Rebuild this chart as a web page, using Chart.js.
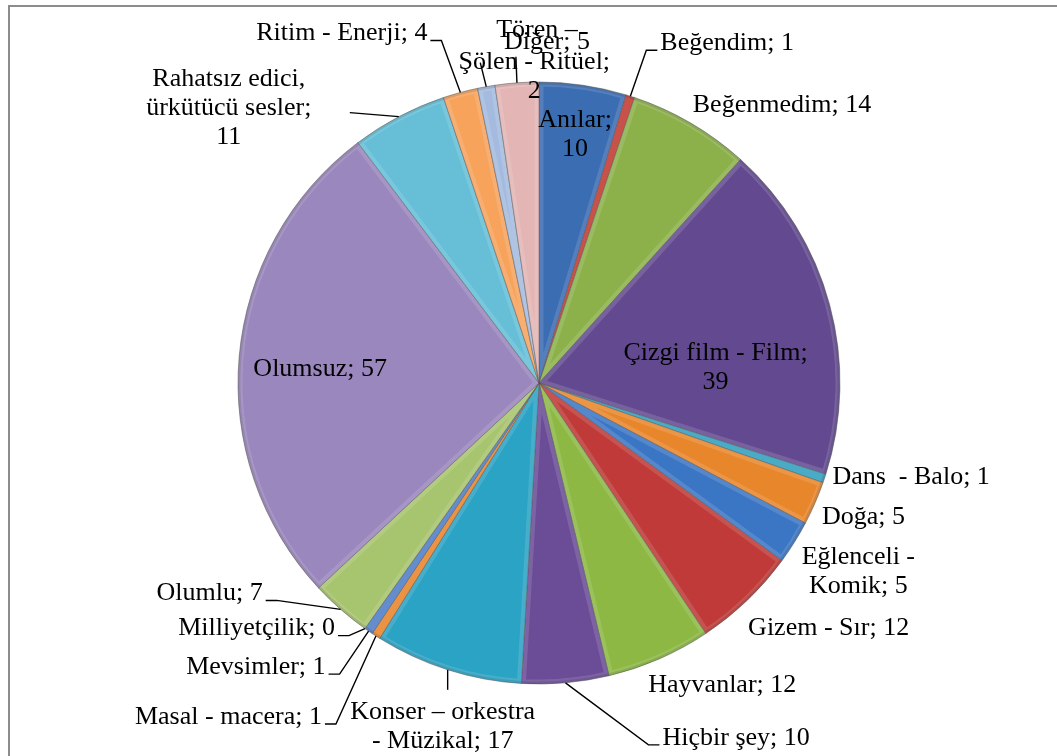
<!DOCTYPE html>
<html>
<head>
<meta charset="utf-8">
<script src="https://cdn.jsdelivr.net/npm/chart.js@4"></script>
<style>
html, body { margin: 0; padding: 0; background: #fff; }
#wrap { width: 1057px; height: 756px; position: relative; }
#probe { position: absolute; left: -9999px; top: 0; font: 26px "Liberation Serif"; }
</style>
</head>
<body>
<div id="wrap"><canvas id="pie" width="1057" height="756"></canvas></div>
<span id="probe">Beğendim Şölen Çizgi</span>
<script>
// categories and counts, clockwise from 12 o'clock
const categories = [
  "Anılar", "Beğendim", "Beğenmedim", "Çizgi film - Film", "Dans  - Balo", "Doğa",
  "Eğlenceli - Komik", "Gizem - Sır", "Hayvanlar", "Hiçbir şey", "Konser – orkestra - Müzikal",
  "Masal - macera", "Mevsimler", "Milliyetçilik", "Olumlu", "Olumsuz",
  "Rahatsız edici, ürkütücü sesler", "Ritim - Enerji", "Şölen - Ritüel", "Tören –", "Diğer"
];
const counts = [10, 1, 14, 39, 1, 5, 5, 12, 12, 10, 17, 1, 1, 0, 7, 57, 11, 4, 2, 0, 5];

const sliceColors = [
  "#3b6db3", "#c0392f", "#8cb14a", "#634a90", "#2f9fbd", "#e8862c",
  "#3b76c4", "#bf3a38", "#8cb843", "#6a4c97", "#2ba3c4",
  "#e8842a", "#4c7dc5", "#c25a57", "#a7c46f", "#9a87bd",
  "#66bfd7", "#f7a35c", "#a4badf", "#d99694", "#e3b5b4"
];

// label placement: offset of the text anchor from the slice's outer mid point
const labelLayout = [
  { dx: -8, dy: 49, align: "center", breaks: ["Anılar;"] },
  { dx: 30, dy: -53, align: "left", leader: true },
  { dx: 2, dy: -18, align: "left" },
  { dx: -114, dy: 63, align: "center", breaks: ["Film;"] },
  { dx: 8, dy: -1, align: "left" },
  { dx: 7, dy: 14, align: "left" },
  { dx: 64, dy: 29, align: "center", breaks: ["Eğlenceli -"] },
  { dx: 1, dy: 28, align: "left" },
  { dx: -11, dy: 26, align: "left" },
  { dx: 97, dy: 55, align: "left", leader: true },
  { dx: -5, dy: 57, align: "center", breaks: ["orkestra"], leaderTo: [0, 20] },
  { dx: -54, dy: 81, align: "right", leader: true },
  { dx: -43, dy: 36, align: "right", leader: true },
  { dx: -30, dy: 0, align: "right", leader: true },
  { dx: -78, dy: -16, align: "right", leader: true },
  { dx: 81, dy: 13, align: "center" },
  { dx: -170, dy: -8, align: "center", breaks: ["edici,", "sesler;"], leaderTo: [-49, -4] },
  { dx: -33, dy: -59, align: "right", leader: true },
  { dx: 48, dy: -10, align: "center", breaks: ["Ritüel;"], leaderTo: [-6, -24] },
  { dx: 42, dy: -55, align: "center", nameOnly: true },
  { dx: 30, dy: -41, align: "center", leaderTo: [-1, -26] }
];

const LABEL_FONT = "26px 'Liberation Serif', 'DejaVu Serif', serif";

function labelLines(i) {
  const lay = labelLayout[i];
  let text = lay.nameOnly ? categories[i] : categories[i] + "; " + counts[i];
  const lines = [];
  (lay.breaks || []).forEach(b => {
    const k = text.indexOf(b);
    if (k >= 0) {
      lines.push(text.slice(0, k + b.length).trim());
      text = text.slice(k + b.length);
    }
  });
  lines.push(text.trim());
  return lines;
}

const framePlugin = {
  id: "frame",
  beforeDraw(chart) {
    const c = chart.ctx;
    c.save();
    c.fillStyle = "#fff";
    c.fillRect(0, 0, chart.width, chart.height);
    c.strokeStyle = "#8c8c8c";
    c.lineWidth = 2;
    c.beginPath();
    c.moveTo(9, chart.height + 5);
    c.lineTo(9, 6);
    c.lineTo(chart.width + 5, 6);
    c.stroke();
    c.restore();
  }
};

// soft bevel: light inner edge on each slice, darker rim
const bevelPlugin = {
  id: "bevel",
  afterDatasetsDraw(chart) {
    const c = chart.ctx;
    chart.getDatasetMeta(0).data.forEach(arc => {
      if (arc.endAngle - arc.startAngle <= 0) return;
      const path = new Path2D();
      path.moveTo(arc.x, arc.y);
      path.arc(arc.x, arc.y, arc.outerRadius, arc.startAngle, arc.endAngle);
      path.closePath();
      c.save();
      c.clip(path);
      c.strokeStyle = "rgba(255,255,255,0.13)";
      c.lineWidth = 9;
      c.stroke(path);
      c.strokeStyle = "rgba(0,0,0,0.10)";
      c.lineWidth = 3;
      c.beginPath();
      c.arc(arc.x, arc.y, arc.outerRadius - 1, arc.startAngle, arc.endAngle);
      c.stroke();
      c.restore();
    });
  }
};

const labelPlugin = {
  id: "pieLabels",
  afterDatasetsDraw(chart) {
    const c = chart.ctx;
    const arcs = chart.getDatasetMeta(0).data;
    const lh = 29;
    c.save();
    c.font = LABEL_FONT;
    c.fillStyle = "#000";
    c.strokeStyle = "#000";
    c.lineWidth = 1.4;
    c.textBaseline = "middle";
    arcs.forEach((arc, i) => {
      const lay = labelLayout[i];
      const mid = (arc.startAngle + arc.endAngle) / 2;
      const px = arc.x + Math.cos(mid) * arc.outerRadius;
      const py = arc.y + Math.sin(mid) * arc.outerRadius;
      const tx = px + lay.dx;
      const ty = py + lay.dy;
      if (lay.leader) {
        const s = lay.align === "left" ? -1 : 1;
        const ly = ty + 7;
        c.beginPath();
        c.moveTo(px, py);
        c.lineTo(tx + s * 14, ly);
        c.lineTo(tx + s * 3, ly);
        c.stroke();
      } else if (lay.leaderTo) {
        c.beginPath();
        c.moveTo(px, py);
        c.lineTo(px + lay.leaderTo[0], py + lay.leaderTo[1]);
        c.stroke();
      }
      const lines = labelLines(i);
      c.textAlign = lay.align;
      const y0 = ty - (lines.length - 1) * lh / 2;
      lines.forEach((ln, j) => c.fillText(ln, tx, y0 + j * lh));
    });
    c.restore();
  }
};

function build() {
  new Chart(document.getElementById("pie"), {
    type: "pie",
    data: {
      labels: categories,
      datasets: [{
        data: counts,
        backgroundColor: sliceColors,
        borderColor: "rgba(60,60,60,0.45)",
        borderWidth: 1,
        hoverOffset: 0,
        radius: 301
      }]
    },
    options: {
      responsive: false,
      animation: false,
      layout: { padding: { left: 221, right: 200, top: 60, bottom: 50 } },
      plugins: {
        legend: { display: false },
        tooltip: { enabled: false },
        title: { display: false }
      }
    },
    plugins: [framePlugin, bevelPlugin, labelPlugin]
  });
}

document.fonts.load(LABEL_FONT, "Beğendim").then(build, build);
</script>
</body>
</html>
